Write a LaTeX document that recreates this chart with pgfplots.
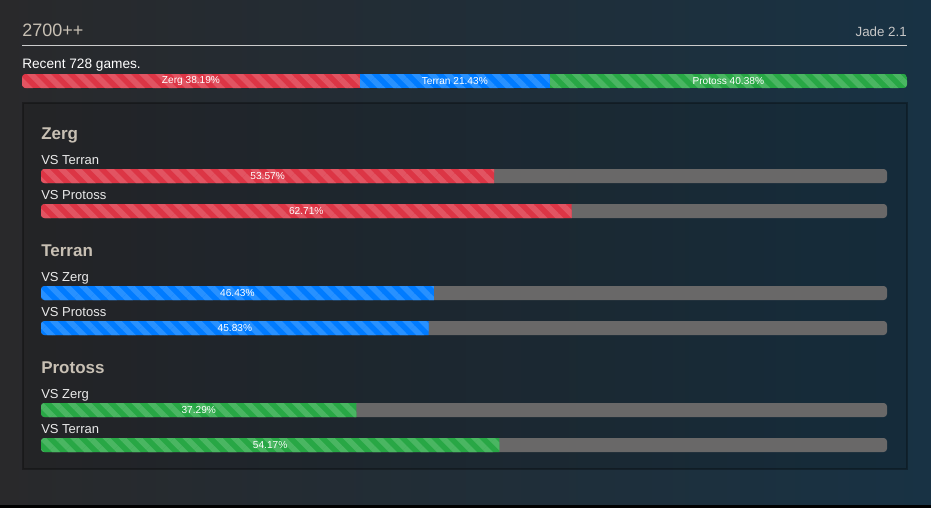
\documentclass[border=0pt]{standalone}
\usepackage{pgfplots}
\pgfplotsset{compat=1.18}
\usepackage{fontspec}
\setmainfont{Liberation Sans}
\usetikzlibrary{patterns.meta}
\definecolor{bgL}{RGB}{41,41,43}
\definecolor{bgM}{RGB}{33,40,48}
\definecolor{bgR}{RGB}{24,50,68}
\definecolor{zred}{RGB}{220,53,69}
\definecolor{zredL}{RGB}{226,84,98}
\definecolor{tblue}{RGB}{0,123,255}
\definecolor{tblueL}{RGB}{40,145,255}
\definecolor{pgreen}{RGB}{40,167,69}
\definecolor{pgreenL}{RGB}{74,182,98}
\definecolor{track}{RGB}{105,104,104}
\definecolor{head}{RGB}{200,192,180}
\definecolor{subtxt}{RGB}{235,235,235}
\tikzset{
  stripes/.style={postaction={pattern={Lines[angle=-45,distance=8.5pt,line width=4.25pt]},pattern color=#1}},
  heading/.style={anchor=base west,inner sep=0pt,text=head,font=\fontsize{12.75}{15}\selectfont\bfseries},
  vs/.style={anchor=base west,inner sep=0pt,text=subtxt,font=\fontsize{9.75}{12}\selectfont},
}
\pgfplotsset{
  barlabels/.style={draw=none,mark=none,nodes near coords,point meta=explicit symbolic,
    every node near coord/.append style={anchor=center,inner sep=0pt,text=white,font=\fontsize{7.6}{9}\selectfont}},
}
\begin{document}
\begin{tikzpicture}[x=0.75pt,y=-0.75pt]
% background
\shade[left color=bgL,middle color=bgM,right color=bgR] (0,0) rectangle (931,505);
\fill[black] (0,505) rectangle (931,508);
% header
\node[anchor=base west,inner sep=0pt,text=head,font=\fontsize{13.5}{16}\selectfont] at (22,36) {2700++};
\node[anchor=base east,inner sep=0pt,text=black!22,font=\fontsize{10}{12}\selectfont] at (907,36) {Jade 2.1};
\draw[color=black!20,line width=0.75pt] (22,45) -- (907,45);
\node[anchor=base west,inner sep=0pt,text=white,font=\fontsize{10.25}{12}\selectfont] at (22,68.5) {Recent 728 games.};
% panel
\draw[fill=black,fill opacity=0.12,draw opacity=0.3,line width=1.2pt] (23,103) rectangle (907,469);
% top distribution bar
\begin{scope}
\clip[rounded corners=2.5pt] (22,74) rectangle (907,88);
\begin{axis}[at={(16.5pt,-66pt)},anchor=south west,width=663.75pt,height=10.5pt,scale only axis,
  hide axis,xmin=0,xmax=100,ymin=-0.5,ymax=0.5,xbar stacked,bar width=10.5pt,clip=false]
\addplot[draw=none,fill=zred,stripes=zredL] coordinates {(38.19,0)};
\addplot[draw=none,fill=tblue,stripes=tblueL] coordinates {(21.43,0)};
\addplot[draw=none,fill=pgreen,stripes=pgreenL] coordinates {(40.38,0)};
\end{axis}
\end{scope}
\begin{axis}[at={(16.5pt,-66pt)},anchor=south west,width=663.75pt,height=10.5pt,scale only axis,
  hide axis,xmin=0,xmax=100,ymin=-0.5,ymax=0.5,clip=false]
\addplot[barlabels] table[meta=label] {
x y label
19.095 0 {Zerg 38.19\%}
48.905 0 {Terran 21.43\%}
79.81 0 {Protoss 40.38\%}
};
\end{axis}
% headings and matchup names
\node[heading] at (41,139) {Zerg};
\node[vs] at (41,164) {VS Terran};
\node[vs] at (41,199) {VS Protoss};
\node[heading] at (41,256) {Terran};
\node[vs] at (41,281) {VS Zerg};
\node[vs] at (41,316) {VS Protoss};
\node[heading] at (41,373) {Protoss};
\node[vs] at (41,398) {VS Zerg};
\node[vs] at (41,433) {VS Terran};
% matchup bars
\begin{scope}
\clip[rounded corners=2.5pt] (41,169) rectangle (887,183) (41,204) rectangle (887,218)
  (41,286) rectangle (887,300) (41,321) rectangle (887,335)
  (41,403) rectangle (887,417) (41,438) rectangle (887,452);
\begin{axis}[at={(30.75pt,-345pt)},anchor=south west,width=634.5pt,height=225pt,scale only axis,
  hide axis,xmin=0,xmax=100,ymin=160,ymax=460,y dir=reverse,bar width=10.5pt,clip=false]
\addplot[xbar,bar shift=0pt,draw=none,fill=track] coordinates {(100,176) (100,211) (100,293) (100,328) (100,410) (100,445)};
\addplot[xbar,bar shift=0pt,draw=none,fill=zred,stripes=zredL] coordinates {(53.57,176) (62.71,211)};
\addplot[xbar,bar shift=0pt,draw=none,fill=tblue,stripes=tblueL] coordinates {(46.43,293) (45.83,328)};
\addplot[xbar,bar shift=0pt,draw=none,fill=pgreen,stripes=pgreenL] coordinates {(37.29,410) (54.17,445)};
\addplot[barlabels] table[meta=label] {
x y label
26.785 176 {53.57\%}
31.355 211 {62.71\%}
23.215 293 {46.43\%}
22.915 328 {45.83\%}
18.645 410 {37.29\%}
27.085 445 {54.17\%}
};
\end{axis}
\end{scope}
\end{tikzpicture}
\end{document}
